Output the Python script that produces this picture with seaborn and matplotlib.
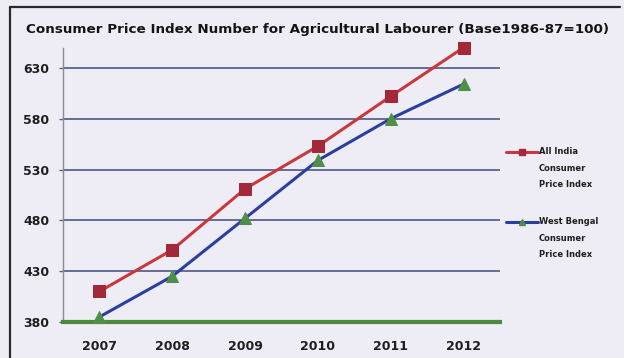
import matplotlib
matplotlib.use("Agg")
import matplotlib.pyplot as plt
from matplotlib.lines import Line2D
import seaborn as sns
import pandas as pd

# Consumer Price Index for agricultural labourers (base 1986-87 = 100)
years = ["2007", "2008", "2009", "2010", "2011", "2012"]
all_india = [410, 451, 511, 553, 602, 650]
west_bengal = [385, 425, 482, 539, 580, 614]
y_ticks = [380, 430, 480, 530, 580, 630]
series_names = ["All India\nConsumer\nPrice Index", "West Bengal\nConsumer\nPrice Index"]

df = pd.DataFrame({"year": years, "all_india": all_india, "west_bengal": west_bengal})

sns.set_theme(style="white")
bg = "#eeedf5"
fig = plt.figure(figsize=(6.24, 3.58), dpi=100, facecolor=bg)
ax = fig.add_axes([63 / 624, 1 - 322 / 358, (500 - 63) / 624, (322 - 47.5) / 358])
ax.set_facecolor(bg)

red_line, red_marker = "#c8383c", "#a3283a"
blue_line, green_marker = "#2b3f9e", "#4f8f48"

sns.lineplot(data=df, x="year", y="all_india", ax=ax, color=red_line, linewidth=2.2,
             marker="s", markersize=8, markerfacecolor=red_marker,
             markeredgecolor=red_marker, clip_on=False, zorder=4)
sns.lineplot(data=df, x="year", y="west_bengal", ax=ax, color=blue_line, linewidth=2.2,
             marker="^", markersize=8.5, markerfacecolor=green_marker,
             markeredgecolor=green_marker, clip_on=False, zorder=4)

ax.set_xlim(-0.5, len(years) - 0.5)
ax.set_ylim(380, 650)
ax.set_yticks(y_ticks)
ax.set_yticklabels([str(v) for v in y_ticks])
ax.set_xlabel("")
ax.set_ylabel("")

for v in y_ticks[1:]:
    ax.axhline(v, color="#5a6290", linewidth=1.3, zorder=1)

for side in ("top", "right"):
    ax.spines[side].set_visible(False)
ax.spines["left"].set_color("#8a8a9a")
ax.spines["left"].set_linewidth(1.0)
ax.spines["bottom"].set_color("#4a8a3c")
ax.spines["bottom"].set_linewidth(3.0)
ax.spines["bottom"].set_zorder(3)

ax.tick_params(axis="y", length=3, width=1.0, color="#5a6290", pad=7, left=True)
ax.tick_params(axis="x", length=0, pad=13, bottom=True)
for lab in ax.get_yticklabels() + ax.get_xticklabels():
    lab.set_fontfamily("DejaVu Sans")
    lab.set_fontweight("bold")
    lab.set_fontsize(9)
    lab.set_color("#1e1e1e")

fig.text(317 / 624, 1 - 30 / 358,
         "Consumer Price Index Number for Agricultural Labourer (Base1986-87=100)",
         ha="center", va="center", fontsize=9.7, fontweight="bold",
         family="DejaVu Sans", color="#141414")

# frame edges on the left and top of the figure
fig.add_artist(Line2D([10 / 624, 10 / 624], [0, 1 - 7 / 358], transform=fig.transFigure,
                      color="#2a2a2a", linewidth=1.6))
fig.add_artist(Line2D([10 / 624, 620 / 624], [1 - 7 / 358, 1 - 7 / 358],
                      transform=fig.transFigure, color="#2a2a2a", linewidth=1.6))

# legend entries
legend_items = [
    (152, red_line, "s", red_marker, series_names[0]),
    (222, blue_line, "^", green_marker, series_names[1]),
]
for ypx, lc, mk, mc, name in legend_items:
    yf = 1 - ypx / 358
    fig.add_artist(Line2D([506 / 624, 538 / 624], [yf, yf], transform=fig.transFigure,
                          color=lc, linewidth=2.2))
    fig.add_artist(Line2D([522 / 624], [yf], transform=fig.transFigure, marker=mk,
                          markersize=5, markerfacecolor=mc, markeredgecolor=mc,
                          linestyle="none"))
    fig.text(539 / 624, yf + 5 / 358, name, ha="left", va="top", fontsize=6.0,
             fontweight="bold", family="DejaVu Sans", color="#1e1e1e",
             linespacing=2.1, transform=fig.transFigure)

fig.savefig("out.png", dpi=100, facecolor=bg)
